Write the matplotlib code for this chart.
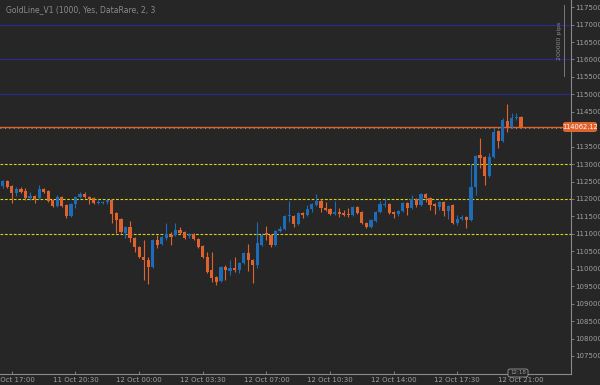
import numpy as np
import pandas as pd
import matplotlib
matplotlib.use("Agg")
import matplotlib.pyplot as plt
from matplotlib.patches import FancyBboxPatch

# 15 minute candles, 11 Oct 16:30 -> 12 Oct 21:00
start_time = "2025-10-11 16:30"
opens = [112373, 112516, 112373, 112172, 112287, 112229, 112029, 112086, 112029, 112287,
         112229, 111971, 111799, 112057, 111828, 111513, 111857, 112057, 112143, 112057,
         112029, 111885, 111885, 111914, 111971, 111599, 111427, 111025, 111197, 110882,
         110624, 110337, 110251, 110051, 110825, 110710, 110882, 110968, 110968, 111111,
         111054, 110939, 110997, 110853, 110653, 110337, 109964, 109764, 109649, 110051,
         109936, 110022, 109964, 110165, 110452, 110251, 110108, 110681, 111025, 110968,
         110681, 111083, 111140, 111513, 111513, 111283, 111599, 111541, 111713, 111828,
         111943, 111742, 111713, 111570, 111627, 111599, 111570, 111541, 111771, 111627,
         111312, 111197, 111369, 111627, 111828, 111857, 111627, 111570, 111656, 111885,
         111742, 112000, 111828, 112143, 112029, 111857, 111771, 111914, 111656, 111828,
         111312, 111427, 111484, 111398, 112344, 113261, 113204, 112659, 113204, 113950,
         113663, 114236, 114064, 114322, 114351]
highs = [112545, 112545, 112401, 112344, 112344, 112315, 112201, 112115, 112401, 112315,
         112258, 112000, 112115, 112086, 111857, 111885, 112086, 112201, 112201, 112086,
         112057, 111971, 111943, 112000, 112000, 111627, 111455, 111226, 111369, 110911,
         110653, 110825, 110337, 110853, 110968, 110939, 111312, 111054, 111312, 111197,
         111083, 111025, 111025, 110882, 110681, 110481, 110481, 109792, 110079, 110108,
         110251, 110337, 110194, 110481, 110710, 110280, 111341, 111025, 111226, 110997,
         111111, 111226, 111541, 111943, 111541, 111627, 111627, 111828, 111885, 112143,
         112000, 111914, 111742, 111943, 111742, 111685, 111742, 111799, 111799, 111656,
         111341, 111427, 111656, 111943, 112029, 111885, 111656, 111685, 111914, 111914,
         112115, 112029, 112172, 112172, 112057, 111885, 111943, 111943, 111828, 111857,
         111541, 111541, 111513, 113003, 113261, 113749, 113233, 113319, 114036, 113978,
         114322, 114724, 114466, 114466, 114380]
lows = [112315, 112315, 111885, 112086, 112172, 111971, 111971, 111885, 112000, 112172,
        111914, 111771, 111771, 111771, 111455, 111484, 111742, 112029, 112029, 111857,
        111857, 111857, 111857, 111857, 111312, 111025, 111025, 110882, 110767, 110481,
        110309, 109678, 109563, 110022, 110595, 110681, 110825, 110681, 110939, 110997,
        110853, 110882, 110825, 110595, 110309, 109878, 109620, 109534, 109620, 109678,
        109821, 109907, 109878, 110136, 109936, 109592, 110022, 110653, 110825, 110624,
        110653, 111054, 111111, 111341, 111197, 111255, 111455, 111513, 111627, 111799,
        111627, 111656, 111541, 111541, 111484, 111513, 111484, 111513, 111570, 111283,
        111169, 111169, 111341, 111599, 111771, 111570, 111455, 111513, 111627, 111541,
        111713, 111771, 111799, 111914, 111685, 111570, 111685, 111513, 111427, 111283,
        111255, 111398, 111169, 111369, 112115, 112889, 112401, 112631, 113175, 113462,
        113634, 113921, 114036, 114265, 114036]
closes = [112516, 112344, 112172, 112287, 112201, 112029, 112086, 112000, 112287, 112201,
          111943, 111799, 112057, 111799, 111513, 111857, 112057, 112143, 112057, 112000,
          111885, 111914, 111914, 111971, 111570, 111398, 111054, 111197, 110882, 110624,
          110337, 110251, 110051, 110825, 110681, 110911, 110997, 110911, 111111, 111025,
          110882, 110997, 110853, 110624, 110337, 109907, 109735, 109620, 110051, 109964,
          110022, 109964, 110165, 110452, 110251, 110108, 110739, 110968, 110968, 110681,
          111083, 111140, 111513, 111541, 111283, 111599, 111541, 111713, 111857, 111943,
          111742, 111685, 111570, 111627, 111570, 111541, 111541, 111771, 111599, 111312,
          111197, 111398, 111627, 111857, 111857, 111599, 111570, 111656, 111885, 111742,
          112000, 111828, 112143, 112029, 111828, 111799, 111914, 111656, 111799, 111312,
          111427, 111484, 111398, 112344, 113233, 113175, 112659, 113204, 113921, 113663,
          114265, 114064, 114322, 114351, 114062.12]

blue_levels = [117000, 116000, 115000]
yellow_levels = [113000, 112000, 111000]
last_price = 114062.12
yticks = np.arange(107500, 117501, 500)
title_text = "GoldLine_V1 (1000, Yes, DataRare, 2, 3"

BG = "#262626"
UP = "#1c6cb8"
DOWN = "#e0622c"
AXIS = "#8a8a8a"
TEXT = "#a0a0a0"

df = pd.DataFrame({"open": opens, "high": highs, "low": lows, "close": closes})
x = np.arange(len(df))
up = df["close"] >= df["open"]
colors = np.where(up, UP, DOWN)

fig = plt.figure(figsize=(6, 3.85), dpi=100, facecolor=BG)
ax = fig.add_axes([0, 11 / 385, 571 / 600, 1 - 11 / 385])
ax.set_facecolor(BG)

# levels
for lv in blue_levels:
    ax.axhline(lv, color="#2b2b86", lw=0.9, zorder=1)
for lv in yellow_levels:
    ax.axhline(lv, color="#d6d21a", lw=0.8, ls=(0, (2.5, 1.5)), zorder=1)
ax.axhline(last_price, color=DOWN, lw=1.0, zorder=1)
ax.axhline(last_price - 40, color="#9a9a9a", lw=0.8, ls=(0, (0.8, 3.2)), zorder=1)

# candles
ax.vlines(x, df["low"], df["high"], color=colors, lw=0.8, zorder=2)
body_bottom = np.minimum(df["open"], df["close"])
body_height = np.maximum(np.abs(df["close"] - df["open"]), 12)
ax.bar(x, body_height, bottom=body_bottom, width=0.7, color=colors, lw=0, zorder=3)

ax.set_xlim(-0.6, 125)
ax.set_ylim(106983, 117705)

# axes styling
for side in ["left", "top"]:
    ax.spines[side].set_visible(False)
for side in ["right", "bottom"]:
    ax.spines[side].set_color(AXIS)
    ax.spines[side].set_linewidth(0.8)
ax.yaxis.tick_right()
ax.set_yticks(yticks)
# the 114000 label sits under the price tag
ax.set_yticklabels(["" if v == 114000 else f"{v:.1f}" for v in yticks])
ax.tick_params(axis="y", colors=AXIS, labelcolor=TEXT, labelsize=5, length=2, width=0.6, pad=1)

tick_idx = np.arange(2, len(df) + 1, 14)
tick_times = pd.date_range(start_time, periods=len(df) + 14, freq="15min")[tick_idx]
ax.set_xticks(tick_idx)
ax.set_xticklabels([t.strftime("%d Oct %H:%M") for t in tick_times])
ax.tick_params(axis="x", colors=AXIS, labelcolor=TEXT, labelsize=5, length=2, width=0.6,
               direction="in", pad=2)

# title
fig.text(6 / 600, 1 - 10 / 385, title_text, color="#8c8c8c", fontsize=5.5, va="center")

# price tag on the right axis
ytag = 1 - 127 / 385
tag = FancyBboxPatch((563 / 600, ytag - 5 / 385), 34 / 600, 10 / 385, transform=fig.transFigure,
                     boxstyle="round,pad=0,rounding_size=0.005", fc=DOWN, ec="none", zorder=5)
fig.patches.append(tag)
fig.text(580 / 600, ytag, f"{last_price:.2f}", color="white", fontsize=4.8,
         ha="center", va="center", zorder=6)

# scale bar
fig.lines.append(plt.Line2D([564 / 600, 564 / 600], [1 - 5 / 385, 1 - 76 / 385],
                            transform=fig.transFigure, color="#7a7a7a", lw=0.7))
fig.text(560 / 600, 1 - 41 / 385, "200000 pips", color="#8c8c8c", fontsize=4.5,
         rotation=90, ha="center", va="center")

# countdown box at the bottom
box = FancyBboxPatch((508 / 600, 8 / 385), 20 / 600, 8 / 385, transform=fig.transFigure,
                     boxstyle="round,pad=0,rounding_size=0.004", fc=BG, ec="#9a9a9a", lw=0.6)
fig.patches.append(box)
fig.text(518 / 600, 12 / 385, "12:18", color="#9a9a9a", fontsize=4, ha="center", va="center")

fig.savefig("out.png", dpi=100, facecolor=BG)
